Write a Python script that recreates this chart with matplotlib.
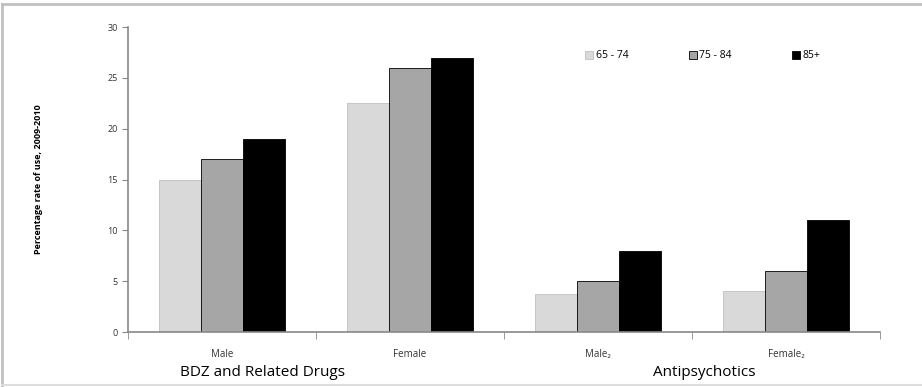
import matplotlib.pyplot as plt
import numpy as np
from matplotlib.lines import Line2D

categories = ["Male", "Female", "Male\u2082", "Female\u2082"]
age_groups = ["65 - 74", "75 - 84", "85+"]
rate_65_74 = [15, 22.5, 3.7, 4]
rate_75_84 = [17, 26, 5, 6]
rate_85_plus = [19, 27, 8, 11]
drug_groups = ["BDZ and Related Drugs", "Antipsychotics"]

plt.rcParams['font.family'] = ['Open Sans', 'DejaVu Sans']

fig = plt.figure(figsize=(9.22, 3.87), dpi=100)
ax = fig.add_axes([0.1388, 0.142, 0.8156, 0.788])

x = np.arange(len(categories))
w = 0.222
colors = ["#d9d9d9", "#a6a6a6", "#000000"]
edges = ["#bfbfbf", "#000000", "#000000"]
for i, (vals, lab) in enumerate(zip([rate_65_74, rate_75_84, rate_85_plus], age_groups)):
    ax.bar(x + (i - 1) * w, vals, w, color=colors[i], edgecolor=edges[i],
           linewidth=0.6, label=lab)

ax.set_xlim(-0.5, 3.5)
ax.set_ylim(0, 30)
ax.set_yticks(range(0, 31, 5))
ax.set_xticks(x)
ax.set_xticklabels(categories, fontsize=7, color="#333333")
ax.set_xticks(np.arange(-0.5, 3.6, 1), minor=True)
ax.tick_params(axis='x', which='major', length=0, pad=12)
ax.tick_params(axis='x', which='minor', length=5, color="#888888")
ax.tick_params(axis='y', length=4, color="#888888", labelsize=6.5, labelcolor="#333333")

for s in ["top", "right"]:
    ax.spines[s].set_visible(False)
for s in ["left", "bottom"]:
    ax.spines[s].set_color("#888888")
    ax.spines[s].set_linewidth(1.2)

ax.set_ylabel("Percentage rate of use, 2009-2010", fontsize=6.5, fontweight="bold",
              labelpad=46)

ax.legend(loc="upper right", bbox_to_anchor=(0.933, 0.955), ncol=3, frameon=False,
          fontsize=7.5, handlelength=0.8, handleheight=0.8, handletextpad=0.2,
          columnspacing=5.8)

fig.text(262 / 922, 1 - 373 / 387, drug_groups[0], ha="center", va="center", fontsize=11)
fig.text(704 / 922, 1 - 373 / 387, drug_groups[1], ha="center", va="center", fontsize=11)

# border lines of the original chart frame (top, left, bottom)
fig.lines.append(Line2D([0.002, 1.0], [0.99, 0.99], transform=fig.transFigure,
                        color="#c0c0c0", linewidth=2))
fig.lines.append(Line2D([0.002, 0.002], [0.0, 0.99], transform=fig.transFigure,
                        color="#c0c0c0", linewidth=2))
fig.lines.append(Line2D([0.002, 1.0], [0.004, 0.004], transform=fig.transFigure,
                        color="#dddddd", linewidth=1.5))

fig.savefig("out.png", dpi=100)
